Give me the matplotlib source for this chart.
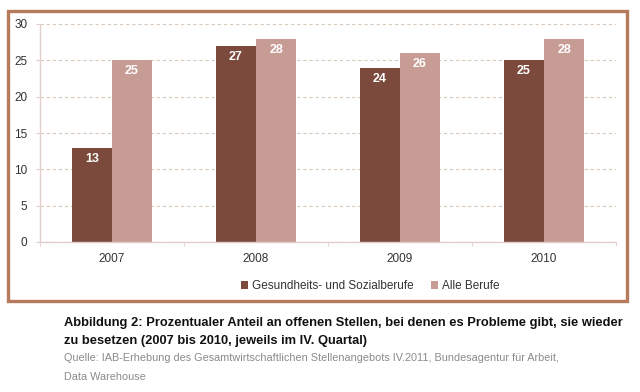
import matplotlib.pyplot as plt
import matplotlib.patches as patches
import numpy as np

plt.rcParams['font.family'] = ['Liberation Sans', 'DejaVu Sans']

years = ['2007', '2008', '2009', '2010']
gesundheit = [13, 27, 24, 25]
alle = [25, 28, 26, 28]
series_names = ['Gesundheits- und Sozialberufe', 'Alle Berufe']

dark = '#7b4a3c'
light = '#c79c95'
axis_col = '#e3cccc'
grid_col = '#d9c9bd'

fig = plt.figure(figsize=(6.4, 3.92), dpi=100)

# frame around the chart
fig.patches.append(patches.Rectangle((7.5 / 640, 1 - 300.5 / 392), 619 / 640, 290 / 392,
                                     transform=fig.transFigure, fill=False,
                                     edgecolor='#b67a5c', linewidth=2.4))

ax = fig.add_axes([40 / 640, 1 - 242 / 392, 576 / 640, 218 / 392])
x = np.arange(len(years))
w = 0.278
b1 = ax.bar(x - w / 2, gesundheit, w, color=dark, label=series_names[0])
b2 = ax.bar(x + w / 2, alle, w, color=light, label=series_names[1])

for bars in (b1, b2):
    for r in bars:
        ax.text(r.get_x() + r.get_width() / 2, r.get_height() - 0.7, str(int(r.get_height())),
                ha='center', va='top', color='white', fontsize=9, fontweight='bold')

ax.set_xlim(-0.5, 3.5)
ax.set_ylim(0, 30)
ax.set_yticks(range(0, 31, 5))
ax.yaxis.grid(True, linestyle=(0, (3, 2.5)), color=grid_col, linewidth=0.8)
ax.set_axisbelow(True)
ax.set_xticks(x)
ax.set_xticklabels(years)
ax.set_xticks(np.arange(-0.5, 4, 1), minor=True)
ax.tick_params(axis='x', which='major', length=0, pad=8, labelsize=8.5, labelcolor='#333333')
ax.tick_params(axis='x', which='minor', length=3, color=axis_col, direction='out')
ax.tick_params(axis='y', length=3, color=axis_col, labelsize=8.5, labelcolor='#333333', pad=6)
for s in ('top', 'right'):
    ax.spines[s].set_visible(False)
for s in ('left', 'bottom'):
    ax.spines[s].set_color(axis_col)
    ax.spines[s].set_linewidth(1.0)

fig.legend(handles=[b1, b2], loc='center', bbox_to_anchor=(370 / 640, 1 - 286 / 392),
           ncol=2, frameon=False, fontsize=8.5, handlelength=0.6, handleheight=0.6,
           handletextpad=0.3, columnspacing=1.5, labelcolor='#333333')

fig.text(64 / 640, 1 - 323 / 392,
         'Abbildung 2: Prozentualer Anteil an offenen Stellen, bei denen es Probleme gibt, sie wieder',
         fontsize=9.3, fontweight='bold', va='center', color='#111111')
fig.text(64 / 640, 1 - 341 / 392, 'zu besetzen (2007 bis 2010, jeweils im IV. Quartal)',
         fontsize=9.3, fontweight='bold', va='center', color='#111111')
fig.text(64 / 640, 1 - 358 / 392,
         'Quelle: IAB-Erhebung des Gesamtwirtschaftlichen Stellenangebots IV.2011, Bundesagentur für Arbeit,',
         fontsize=7.8, va='center', color='#8a8a8a')
fig.text(64 / 640, 1 - 377 / 392, 'Data Warehouse', fontsize=7.8, va='center', color='#8a8a8a')

fig.savefig('out.png', dpi=100)
